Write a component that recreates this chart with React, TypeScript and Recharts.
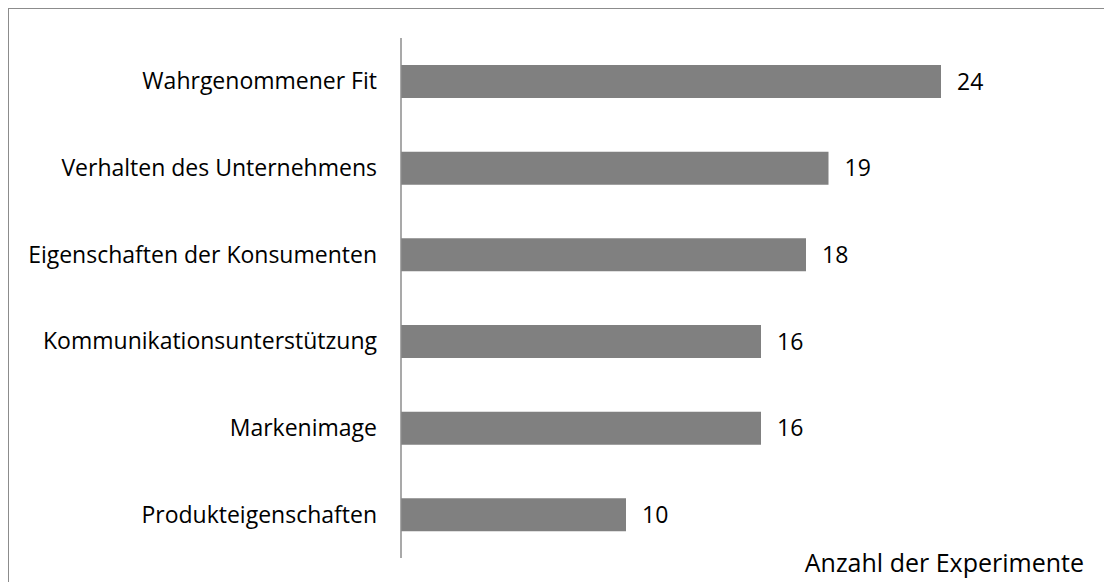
import React from 'react';
import { BarChart, Bar, XAxis, YAxis, LabelList } from 'recharts';

const categories = [
  'Wahrgenommener Fit',
  'Verhalten des Unternehmens',
  'Eigenschaften der Konsumenten',
  'Kommunikationsunterstützung',
  'Markenimage',
  'Produkteigenschaften',
];
const values = [24, 19, 18, 16, 16, 10];
const axisTitle = 'Anzahl der Experimente';

const data = categories.map((name, i) => ({ name, value: values[i] }));

const FONT = '"Open Sans", sans-serif';

export default function App() {
  return (
    <div style={{ position: 'absolute', left: 0, top: 0, width: 1104, height: 582, overflow: 'hidden', background: '#fff' }}>
      <div
        style={{
          position: 'absolute',
          left: 8,
          top: 8,
          width: 1120,
          height: 600,
          border: '1px solid #8c8c8c',
          boxSizing: 'border-box',
        }}
      />
      <div style={{ position: 'absolute', left: 0, top: 0 }}>
        <BarChart
          width={1104}
          height={582}
          data={data}
          layout="vertical"
          margin={{ top: 38, right: 28, bottom: 0, left: 0 }}
          barSize={33}
        >
          <XAxis
            type="number"
            domain={[0, 30]}
            axisLine={false}
            tickLine={false}
            tick={false}
            height={24}
            label={{
              value: axisTitle,
              position: 'insideBottomRight',
              offset: 0,
              dx: 8,
              dy: -10,
              fill: '#000',
              fontSize: 25,
              fontFamily: FONT,
            }}
          />
          <YAxis
            type="category"
            dataKey="name"
            width={401}
            axisLine={{ stroke: '#8c8c8c', strokeWidth: 1.5 }}
            tickLine={false}
            tickSize={0}
            tickMargin={24}
            tick={{ fill: '#000', fontSize: 23, fontFamily: FONT }}
            interval={0}
          />
          <Bar dataKey="value" fill="#808080" isAnimationActive={false}>
            <LabelList
              dataKey="value"
              position="right"
              offset={16}
              fill="#000"
              fontSize={23}
              fontFamily={FONT}
            />
          </Bar>
        </BarChart>
      </div>
    </div>
  );
}
